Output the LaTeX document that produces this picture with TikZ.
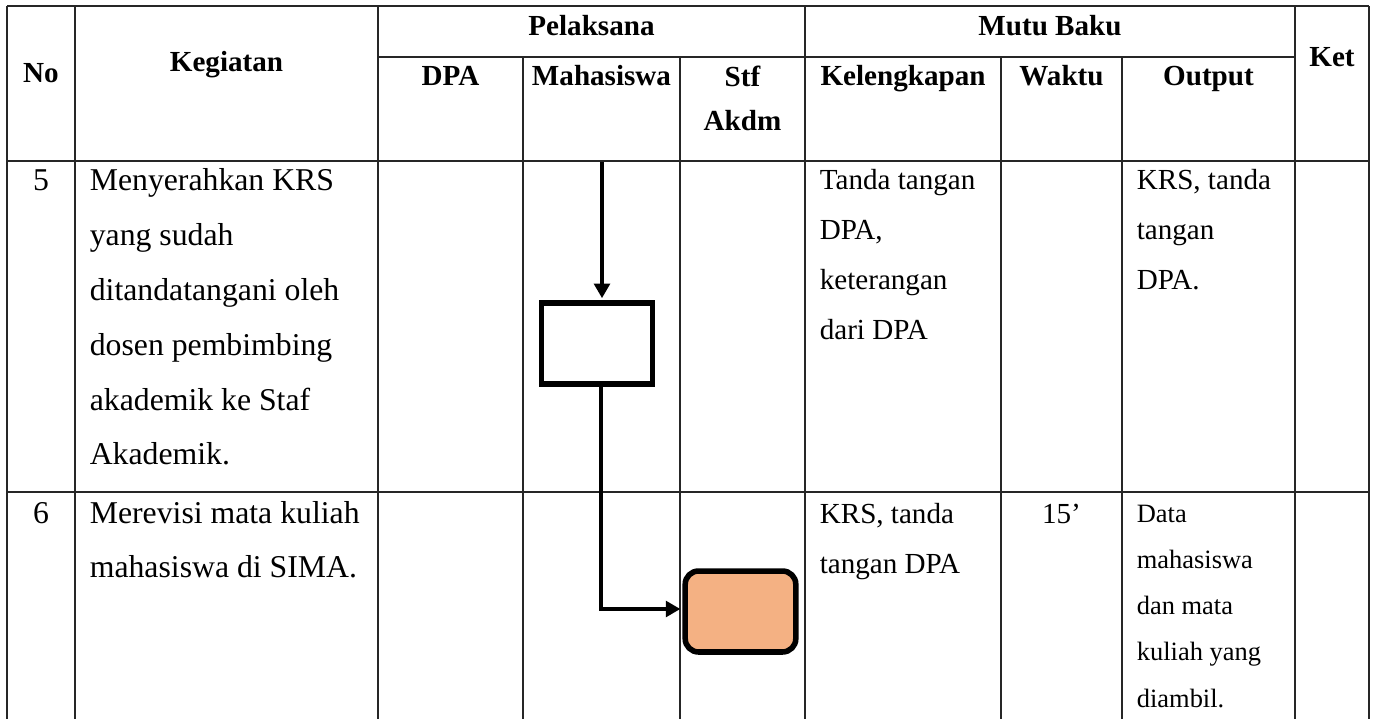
\documentclass[tikz,border=0pt]{standalone}
\usepackage{fontspec}
\setmainfont{Liberation Serif}
\usetikzlibrary{arrows.meta}
\definecolor{peach}{HTML}{F4B183}
\tikzset{tabline/.style={line width=0.5pt, draw=black!85},
  hd/.style={font=\bfseries\fontsize{11}{17}\selectfont, inner sep=0pt, anchor=base, align=center},
  txt/.style={font=\fontsize{12}{20.7}\selectfont, inner sep=0pt, anchor=base west, align=left},
  txts/.style={font=\fontsize{11}{18.9}\selectfont, inner sep=0pt, anchor=base west, align=left},
  txtxs/.style={font=\fontsize{10}{17.4}\selectfont, inner sep=0pt, anchor=base west, align=left},
  procbox/.style={draw, line width=2.1pt, minimum width=41.8pt, minimum height=30.6pt, inner sep=0pt},
  endbox/.style={procbox, fill=peach, rounded corners=5pt},
  flow/.style={line width=1.2pt, shorten >=0.8pt, -{Triangle[length=5.5pt,width=6pt]}}}

\begin{document}
\begin{tikzpicture}[x=0.378pt, y=-0.378pt]
  \useasboundingbox (0,0) rectangle (1374,719);
  % table rules
  \draw[tabline] (7,6) -- (1369,6);
  \draw[tabline] (378,57) -- (1295,57);
  \draw[tabline] (7,161) -- (1369,161);
  \draw[tabline] (7,492) -- (1369,492);
  \foreach \x in {7,75,378,805,1295,1369} \draw[tabline] (\x,6) -- (\x,719);
  \foreach \x in {523,680,1001,1122} \draw[tabline] (\x,57) -- (\x,719);
  % header (multi-line nodes sit on their last baseline)
  \node[hd] (no) at (41,83) {No};
  \node[hd] (keg) at (226.5,72) {Kegiatan};
  \node[hd] (pel) at (591.5,36) {Pelaksana};
  \node[hd] (mutu) at (1050,36) {Mutu Baku};
  \node[hd] (ket) at (1332,67) {Ket};
  \node[hd] (dpa) at (450.5,86) {DPA};
  \node[hd] (mhs) at (601.5,86) {Mahasiswa};
  \node[hd] (stf) at (742.5,131) {Stf\\Akdm};
  \node[hd] (lengkap) at (903,86) {Kelengkapan};
  \node[hd] (waktu) at (1061.5,86) {Waktu};
  \node[hd] (out) at (1208.5,86) {Output};
  % row 5
  \node[txt, anchor=base] (n5) at (41,191) {5};
  \node[txt] (keg5) at (89.3,464.8) {Menyerahkan KRS\\yang sudah\\ditandatangani oleh\\dosen pembimbing\\akademik ke Staf\\Akademik.};
  \node[txts] (lengkap5) at (819.3,339) {Tanda tangan\\DPA,\\keterangan\\dari DPA};
  \node[txts] (out5) at (1136.3,289) {KRS, tanda\\tangan\\DPA.};
  % row 6
  \node[txt, anchor=base] (n6) at (41,523) {6};
  \node[txt] (keg6) at (89.3,577.8) {Merevisi mata kuliah\\mahasiswa di SIMA.};
  \node[txts] (lengkap6) at (819.3,573) {KRS, tanda\\tangan DPA};
  \node[txts, anchor=base] (waktu6) at (1061.5,523) {15’};
  \node[txtxs] (out6) at (1136.3,707) {Data\\mahasiswa\\dan mata\\kuliah yang\\diambil.};
  % flow
  \node[procbox] (serah) at (597,343.5) {};
  \node[endbox] (revisi) at (740.5,611.5) {};
  \coordinate (start) at (602,162);
  \coordinate (bend) at (601,609);
  \draw[flow] (start) -- (start |- serah.north);
  \draw[flow] (bend |- serah.south) -- (bend) -- (bend -| revisi.west);
\end{tikzpicture}
\end{document}
